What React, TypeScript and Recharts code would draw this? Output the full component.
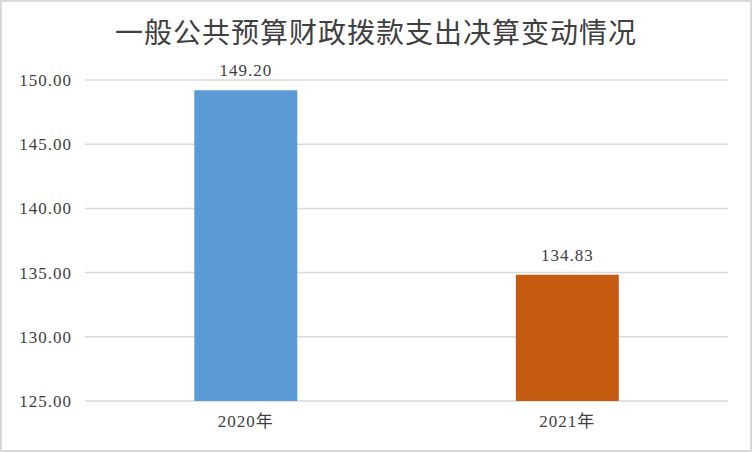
import { Bar, BarChart, CartesianGrid, Cell, LabelList, XAxis, YAxis } from "recharts";

const years = ["2020年", "2021年"];
const amounts = [149.2, 134.83];
const barColors = ["#5B9BD5", "#C55A11"];
const yTicks = [125, 130, 135, 140, 145, 150];
const title = "一般公共预算财政拨款支出决算变动情况";

const font = "'Liberation Serif', 'Noto Sans CJK SC', serif";
const ink = "#404040";

const data = years.map((year, i) => ({ year, amount: amounts[i] }));

export default function App() {
  return (
    <div
      style={{
        position: "relative",
        width: 752,
        height: 452,
        boxSizing: "border-box",
        border: "2px solid #D9D9D9",
        background: "#fff",
        fontFamily: font,
      }}
    >
      <style>{"body{margin:0}"}</style>
      <div
        style={{
          position: "absolute",
          top: 14,
          left: 0,
          width: 748,
          textAlign: "center",
          fontSize: 28,
          letterSpacing: 1,
          color: ink,
          lineHeight: "36px",
        }}
      >
        {title}
      </div>
      <div style={{ position: "absolute", top: -2, left: -2 }}>
        <BarChart
          width={752}
          height={452}
          data={data}
          barCategoryGap="34%"
          margin={{ top: 80, right: 24, left: 5, bottom: 21 }}
        >
          <CartesianGrid vertical={false} stroke="#D9D9D9" strokeWidth={1.5} />
          <XAxis
            dataKey="year"
            axisLine={false}
            tickLine={false}
            tickSize={0}
            tickMargin={14}
            height={30}
            tick={{ fill: ink, fontSize: 17, fontFamily: font, letterSpacing: 1 }}
          />
          <YAxis
            domain={[125, 150]}
            ticks={yTicks}
            width={80}
            axisLine={false}
            tickLine={false}
            tickSize={0}
            tickMargin={13}
            tickFormatter={(v: number) => v.toFixed(2)}
            tick={{ fill: ink, fontSize: 17, fontFamily: font, letterSpacing: 1 }}
          />
          <Bar dataKey="amount" isAnimationActive={false}>
            {data.map((d, i) => (
              <Cell key={d.year} fill={barColors[i]} />
            ))}
            <LabelList
              dataKey="amount"
              position="top"
              offset={14}
              formatter={(v: number) => v.toFixed(2)}
              style={{ fill: ink, fontSize: 17, fontFamily: font, letterSpacing: 1 }}
            />
          </Bar>
        </BarChart>
      </div>
    </div>
  );
}
